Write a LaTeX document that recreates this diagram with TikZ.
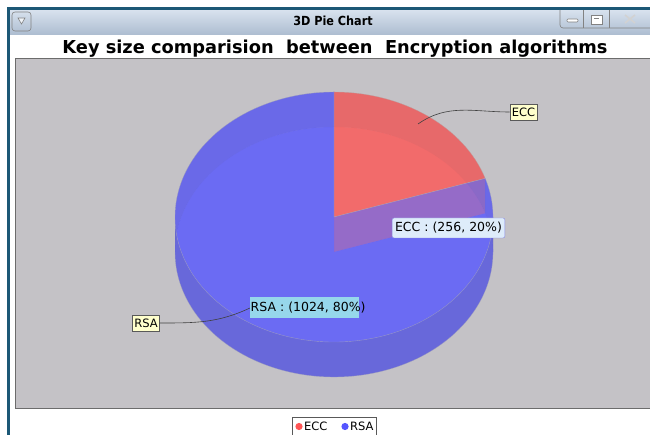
\documentclass[tikz,border=0pt]{standalone}
\usepackage{fontspec}
\setmainfont{DejaVu Sans}
\newfontfamily\barfont{DejaVu Sans Condensed}
\usetikzlibrary{calc}

\definecolor{plotgray}{RGB}{196,194,198}
\definecolor{frameteal}{RGB}{28,88,118}
\definecolor{barhi}{RGB}{216,226,238}
\definecolor{barlo}{RGB}{172,188,208}
\definecolor{eccred}{RGB}{255,85,85}
\definecolor{eccside}{RGB}{209,80,80}
\definecolor{rsablue}{RGB}{85,85,255}
\definecolor{rsaside}{RGB}{80,80,209}
\definecolor{lblyellow}{RGB}{255,255,204}
\definecolor{tipblue}{RGB}{222,236,250}
\definecolor{tipcyan}{RGB}{150,215,235}

\begin{document}
\begin{tikzpicture}[x=1pt, y=1pt,
    every node/.style={inner sep=0pt, font=\fontsize{12.5}{14}\selectfont},
    lblbox/.style={draw=gray!70!black, fill=lblyellow, inner xsep=2pt, inner ysep=3pt,
      minimum height=16pt, font=\fontsize{11.5}{13}\selectfont},
    tipbox/.style={draw=gray!40!blue!60, fill=tipblue, rounded corners=2pt, inner xsep=3pt,
      minimum height=20pt},
    leader/.style={draw=gray!50!black, line width=0.6pt},
    btnline/.style={draw=gray!60!black!70, line width=0.6pt}]
  \useasboundingbox (0,0) rectangle (650,435);

  % --- window frame and title bar ---
  \shade[top color=barhi, bottom color=barlo] (10,400) rectangle (650,425);
  \fill[frameteal] (7,425) rectangle (650,427.5);
  \fill[frameteal] (7,0) rectangle (10,427.5);
  \draw[btnline, rounded corners=3pt] (12,404) rectangle (31,423);
  \draw[btnline, fill=white!60!barhi] (18,417) -- (25,417) -- (21.5,411) -- cycle;
  \draw[btnline, rounded corners=3pt] (560,425) -- (560,407) -- (650,407);
  \draw[btnline] (583,425) -- (583,407);
  \draw[btnline] (609,425) -- (609,407);
  \draw[btnline, fill=white, rounded corners=1pt] (567,413) rectangle (578,416);
  \draw[btnline, fill=white] (591,411) rectangle (602,420);
  \draw[btnline] (594,417) -- (599,417);
  \draw[gray!35, line width=1.6pt] (625,420) -- (635,412) (625,412) -- (635,420);
  \node[font=\barfont\bfseries\fontsize{12.5}{14}\selectfont, anchor=base] (wintitle) at (333,409) {3D Pie Chart};

  % --- chart title and plot area ---
  \node[font=\fontsize{17.8}{20}\selectfont\bfseries, anchor=base] (charttitle) at (335,381)
    {Key size comparision\ \ between\ \ Encryption algorithms};
  \draw[draw=gray!85!black, line width=1pt, fill=plotgray] (15,26) rectangle (652,376);

  % --- 3D pie: bottom faces, side walls, top faces ---
  \pgfmathsetmacro{\pierx}{159}
  \pgfmathsetmacro{\piery}{125}
  \coordinate (Ct) at (334,218);
  \coordinate (Cb) at (334,183);
  \foreach \col/\a/\b in {eccred/90/18, rsablue/18/-270}
    \fill[\col, opacity=.55] (Cb) -- ($(Cb)+({\pierx*cos(\a)},{\piery*sin(\a)})$)
      arc[start angle=\a, end angle=\b, x radius=\pierx, y radius=\piery] -- cycle;
  \foreach \col/\a/\b in {eccside/90/18, rsaside/18/0, rsaside/0/-180, rsaside/-180/-270}
    \fill[\col, opacity=.55] ($(Ct)+({\pierx*cos(\a)},{\piery*sin(\a)})$)
      arc[start angle=\a, end angle=\b, x radius=\pierx, y radius=\piery] -- ++(0,-35)
      arc[start angle=\b, end angle=\a, x radius=\pierx, y radius=\piery] -- cycle;
  \foreach \col/\a/\b in {eccred/90/18, rsablue/18/-270}
    \filldraw[fill=\col, fill opacity=.55, draw=gray!60, draw opacity=.6, line width=.4pt]
      (Ct) -- ($(Ct)+({\pierx*cos(\a)},{\piery*sin(\a)})$)
      arc[start angle=\a, end angle=\b, x radius=\pierx, y radius=\piery] -- cycle;
  \draw[gray!60, opacity=.6, line width=.4pt] ($(Cb)+(\pierx,0)$)
    arc[start angle=0, end angle=-180, x radius=\pierx, y radius=\piery];

  % --- section labels with leaders ---
  \coordinate (eccpt) at (418,311);
  \coordinate (rsapt) at (250,127);
  \node[lblbox] (ecclbl) at (523.5,323) {ECC};
  \node[lblbox] (rsalbl) at (146,112) {RSA};
  \draw[leader] (eccpt) to[out=35, in=180] (ecclbl.west);
  \draw[leader] (rsalbl.east) to[out=0, in=205] (rsapt);

  % --- tooltips ---
  \node[tipbox] (ecctip) at (448.5,207) {ECC : (256, 20\%)};
  \fill[tipcyan] (250,117) rectangle (359,138);
  \node[anchor=west] (rsatip) at (250.5,127.5) {RSA : (1024, 80\%)};

  % --- legend ---
  \draw[gray!70!black, line width=.6pt] (292,-3) -- (292,17.5) -- (376,17.5) -- (376,-3);
  \foreach \nm/\col/\xx in {ECC/eccred/299, RSA/rsablue/345} {
    \fill[\col] (\xx,8.5) circle (3.6);
    \node[anchor=west, font=\fontsize{11.5}{13}\selectfont] (leg\nm) at (\xx+5,8.5) {\nm};
  }
\end{tikzpicture}
\end{document}
